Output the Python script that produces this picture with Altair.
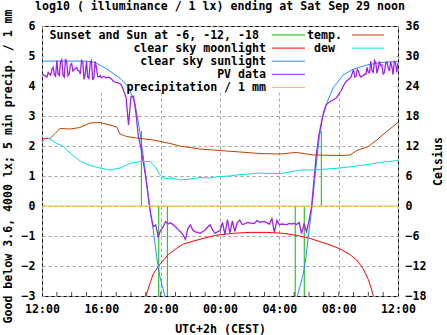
import altair as alt
import pandas as pd

FONT = "DejaVu Sans Mono"
FS = 11.6

GREEN = "#00c000"
RED = "#ff0000"
BLUE = "#1e90ff"
PURPLE = "#a020f0"
GOLD = "#ffc020"
BROWN = "#c04000"
CYAN = "#00e0e0"

TITLE = "log10 ( illuminance / 1 lx) ending at Sat Sep 29 noon"

# ---------------- data (hours after 12:00) ----------------
# PV data, one value every 10 minutes from 12:00 to 12:00 next day
pv_values = [
    4.42, 4.35, 4.30, 4.40, 4.55, 4.38, 4.85, 4.35, 4.88, 4.30, 4.80, 4.40,
    4.75, 4.55, 4.62, 4.50, 4.85, 4.22, 4.82, 4.25, 4.85, 4.30, 4.62, 4.30,
    4.28, 4.32, 4.27, 4.30, 4.24, 4.15, 4.12, 4.10, 4.05, 3.85, 3.62, 2.70,
    3.64, 3.66, 3.10, 2.30, 1.95, 1.45, 0.95, 0.30, -0.30, -0.69, -0.63, -1.02,
    -0.80, -0.70, -0.52, -0.60, -0.56, -0.62, -0.69, -0.78, -0.86, -0.95, -1.11, -0.75,
    -0.63, -0.80, -0.86, -0.88, -0.91, -0.85, -0.80, -0.70, -0.63, -0.80, -0.91, -0.86,
    -0.82, -0.55, -0.95, -0.45, -0.90, -0.50, -0.85, -0.55, -0.47, -0.62, -0.60, -0.55,
    -0.56, -0.58, -0.58, -0.48, -0.54, -0.53, -0.52, -0.56, -0.60, -0.42, -0.88, -0.48,
    -0.62, -0.60, -0.61, -0.62, -0.58, -0.60, -0.58, -0.62, -0.55, -0.92, -0.60, -0.85,
    -0.50, -0.05, 0.85, 1.75, 2.35, 2.78, 3.15, 3.38, 3.45, 3.50, 3.55, 3.60,
    3.72, 3.85, 4.02, 4.15, 4.22, 4.30, 4.55, 4.32, 4.50, 4.30, 4.35, 4.38,
    4.45, 4.82, 4.45, 4.78, 4.60, 4.68, 4.40, 4.75, 4.62, 4.80, 4.38, 4.78,
    4.76,
]
pv_hours = [i / 6 for i in range(len(pv_values))]
# extra 5-minute PV readings in the noisy stretches (12:05-15:55 and 09:05-11:55)
pv_pm_mid_values = [4.38, 4.32, 4.45, 4.36, 4.62, 4.32, 4.40, 4.82, 4.36, 4.90, 4.34, 4.70,
                    4.50, 4.58, 4.52, 4.40, 4.80, 4.40, 4.30, 4.78, 4.20, 4.82, 4.32, 4.35]
pv_pm_mid_hours = [i / 6 + 1 / 12 for i in range(len(pv_pm_mid_values))]
pv_am_mid_values = [4.30, 4.55, 4.35, 4.33, 4.40, 4.62, 4.45, 4.50, 4.85, 4.42, 4.82, 4.70,
                    4.45, 4.80, 4.50, 4.65, 4.82, 4.45]
pv_am_mid_hours = [21 + i / 6 + 1 / 12 for i in range(len(pv_am_mid_values))]

sun_eve_hours = [0, 3.0, 3.6, 4.36, 5.26, 5.82, 6.27, 6.61, 6.8, 6.94, 7.1, 7.24,
                 7.5, 7.73, 7.95, 8.18, 8.29]
sun_eve_values = [4.83, 4.83, 4.78, 4.57, 4.26, 3.98, 3.42, 2.45, 1.75, 1.2, 0.6, 0.0,
                  -0.8, -1.69, -2.36, -2.8, -3.0]
sun_morn_hours = [17.21, 17.39, 17.62, 17.80, 17.95, 18.12, 18.25, 18.36, 18.52, 18.70,
                  18.92, 19.19, 19.64, 20.31, 20.99, 21.89, 22.79, 23.68, 24]
sun_morn_values = [-3.0, -2.69, -2.24, -1.69, -1.02, -0.36, 0.2, 0.76, 1.53, 2.31,
                   2.98, 3.42, 3.95, 4.37, 4.56, 4.7, 4.78, 4.81, 4.82]

moon_hours = [7.0, 7.28, 7.5, 7.96, 8.51, 9.08, 9.53, 9.98, 10.87, 11.78, 12.9, 14.02,
              15.15, 16.27, 17.17, 18.07, 18.74, 19.42, 20.09, 20.76, 21.22, 21.66,
              22.0, 22.23, 22.34]
moon_values = [-3.0, -2.58, -2.26, -1.94, -1.62, -1.41, -1.27, -1.2, -1.08, -0.97, -0.91,
               -0.88, -0.88, -0.91, -0.98, -1.08, -1.19, -1.3, -1.43, -1.62, -1.8, -2.1,
               -2.45, -2.8, -3.0]

temp_hours = [0, 0.54, 0.88, 1.21, 1.89, 2.56, 3.24, 3.91, 4.58, 5.04, 5.26, 5.71, 6.38,
              7.5, 8.63, 9.3, 10.65, 12.0, 13.35, 14.7, 16.05, 16.72, 17.17, 18.29, 20.09,
              20.76, 21.22, 22.0, 22.57, 23.24, 24]
temp_values = [13.5, 13.5, 14.5, 15.5, 15.4, 15.7, 16.6, 16.7, 16.2, 15.8, 14.4, 13.9, 13.6,
               13.2, 12.5, 12.0, 11.4, 11.1, 10.8, 10.5, 10.4, 10.6, 10.7, 10.2, 10.1,
               10.2, 11.1, 11.9, 13.2, 14.9, 16.7]

dew_hours = [0, 0.32, 0.65, 0.99, 1.44, 1.67, 2.02, 2.56, 3.24, 3.91, 4.58, 5.26, 5.93,
             6.61, 7.28, 7.62, 7.96, 8.29, 8.83, 9.3, 9.98, 10.65, 11.33, 12.0, 12.67,
             13.35, 14.02, 14.7, 15.37, 16.05, 16.72, 17.39, 18.27, 18.74, 20.09, 21.44,
             22.79, 24]
dew_values = [12.8, 13.7, 13.2, 12.5, 11.9, 11.2, 10.3, 9.0, 8.1, 7.6, 7.2, 7.6, 8.5,
              8.9, 8.9, 7.9, 6.2, 5.5, 5.6, 5.2, 5.4, 5.7, 5.6, 5.9, 6.0,
              6.3, 6.4, 6.6, 6.5, 6.5, 6.8, 7.2, 7.2, 7.3, 7.6, 8.1,
              8.7, 9.1]

sun_event_hours = [6.70, 7.87, 8.45, 17.07, 17.68, 18.83]
sun_event_top = [2.5, 0, 0, 0, 0, 2.5]
sun_event_bottom = [0, -3, -3, -3, -3, 0]

precip_hours = [0, 24]
precip_values = [0, 0]

minor_tick_hours = list(range(1, 24))

x_tick_values = [0, 4, 8, 12, 16, 20, 24]
y_tick_values = [-3, -2, -1, 0, 1, 2, 3, 4, 5, 6]
y2_tick_values = [-18, -12, -6, 0, 6, 12, 18, 24, 30, 36]

legend_left = [
    ("Sunset and Sun at -6, -12, -18", GREEN),
    ("clear sky moonlight", RED),
    ("clear sky sunlight", BLUE),
    ("PV data", PURPLE),
    ("precipitation / 1 mm", GOLD),
]
legend_right = [("temp.", BROWN), ("dew", CYAN)]

# ---------------- scales & axes ----------------
txt = dict(font=FONT, fontSize=FS, fontWeight="bold", color="black")

x_scale = alt.Scale(domain=[0, 24], nice=False, zero=False)
y_scale = alt.Scale(domain=[-3, 6], nice=False, zero=False)
r_scale = alt.Scale(domain=[-18, 36], nice=False, zero=False)

grid_style = dict(grid=True, gridColor="#a0a0a0", gridDash=[3, 3], gridWidth=1)

x_axis = alt.Axis(
    values=x_tick_values,
    labelExpr="(((datum.value + 12) % 24) < 10 ? '0' : '') + ((datum.value + 12) % 24) + ':00'",
    ticks=False, domain=False, labelFlush=False, labelOverlap=False, labelBound=False,
    labelFont=FONT, labelFontSize=FS, labelFontWeight="bold", labelColor="black",
    labelPadding=7,
    title="UTC+2h (CEST)", titleFont=FONT, titleFontSize=FS, titleFontWeight="bold",
    titleColor="black", titleX=178, titleY=36, titleAlign="center",
    titleBaseline="alphabetic",
    **grid_style,
)
y_axis = alt.Axis(
    values=y_tick_values, ticks=False, domain=False, labelFlush=False,
    labelOverlap=False, labelBound=False,
    labelFont=FONT, labelFontSize=FS, labelFontWeight="bold", labelColor="black",
    labelPadding=7,
    title="Good below 3.6, 4000 lx; 5 min precip. / 1 mm", titleFont=FONT,
    titleFontSize=FS, titleFontWeight="bold", titleColor="black",
    titleX=-34, titleY=140, titleAlign="center", titleBaseline="middle",
    **grid_style,
)
r_axis = alt.Axis(
    orient="right", values=y2_tick_values, ticks=False, domain=False, grid=False,
    labelFlush=False, labelOverlap=False, labelBound=False,
    labelExpr="datum.value >= 0 ? '\u00a0' + datum.label : datum.label",
    labelAlign="left",
    labelFont=FONT, labelFontSize=FS, labelFontWeight="bold", labelColor="black",
    labelPadding=7,
    title="Celsius", titleFont=FONT, titleFontSize=FS, titleFontWeight="bold",
    titleColor="black", titleAngle=270, titleX=40, titleY=135, titleAlign="center",
    titleBaseline="middle",
)


def X(f):
    return alt.X(f"{f}:Q", scale=x_scale, axis=x_axis)


def YL(f):
    return alt.Y(f"{f}:Q", scale=y_scale, axis=y_axis)


# ---------------- tables ----------------
pv_df = pd.concat([
    pd.DataFrame({"h": pv_hours, "v": pv_values}),
    pd.DataFrame({"h": pv_pm_mid_hours, "v": pv_pm_mid_values}),
    pd.DataFrame({"h": pv_am_mid_hours, "v": pv_am_mid_values}),
]).sort_values("h").reset_index(drop=True)
sun_df = pd.concat([
    pd.DataFrame({"h": sun_eve_hours, "v": sun_eve_values, "seg": "eve"}),
    pd.DataFrame({"h": sun_morn_hours, "v": sun_morn_values, "seg": "morn"}),
])
moon_df = pd.DataFrame({"h": moon_hours, "v": moon_values})
temp_df = pd.DataFrame({"h": temp_hours, "c": temp_values})
dew_df = pd.DataFrame({"h": dew_hours, "c": dew_values})
ev_df = pd.DataFrame({"h": sun_event_hours, "top": sun_event_top, "bottom": sun_event_bottom})
pr_df = pd.DataFrame({"h": precip_hours, "v": precip_values})
tk_df = pd.DataFrame({"h": minor_tick_hours})
one = pd.DataFrame({"a": [0]})

# ---------------- layers ----------------
blank = alt.Chart(one).mark_rect(fill="white").encode(
    x=alt.value(2), x2=alt.value(351), y=alt.value(1), y2=alt.value(67))

events = alt.Chart(ev_df).mark_rule(color=GREEN, strokeWidth=1, clip=True).encode(
    x=X("h"), y=YL("top"), y2=alt.Y2("bottom"))

moon = alt.Chart(moon_df).mark_line(color=RED, strokeWidth=1, clip=True).encode(
    x=X("h"), y=YL("v"))

sun = alt.Chart(sun_df).mark_line(color=BLUE, strokeWidth=1, clip=True).encode(
    x=X("h"), y=YL("v"), detail="seg:N")

pv = alt.Chart(pv_df).mark_line(color=PURPLE, strokeWidth=1.3, clip=True).encode(
    x=X("h"), y=YL("v"), order="h:Q")

precip = alt.Chart(pr_df).mark_line(color=GOLD, strokeWidth=1, clip=True).encode(
    x=X("h"), y=YL("v"))

ticks = alt.Chart(tk_df).mark_tick(orient="vertical", size=8, thickness=1,
                                   color="black", clip=True).encode(
    x=X("h"), y=alt.datum(-3, scale=y_scale, axis=y_axis))

title = alt.Chart(one).mark_text(text=TITLE, align="center", baseline="alphabetic",
                                 **txt).encode(x=alt.value(178), y=alt.value(-16))

# key: right-aligned labels with a line sample to their right (first entry and
# "dew" end one character earlier, as in the original key)
left_label_end = [217, 224, 224, 224, 224]
right_label_end = [300, 293]
legend_layers = []
for i, (lab, col) in enumerate(legend_left):
    legend_layers.append(alt.Chart(one).mark_text(
        text=lab, align="right", baseline="alphabetic", **txt).encode(
        x=alt.value(left_label_end[i]), y=alt.value(12.5 + 13.1 * i)))
    legend_layers.append(alt.Chart(one).mark_rule(color=col, strokeWidth=1).encode(
        x=alt.value(230), x2=alt.value(263), y=alt.value(9 + 13.1 * i)))
for i, (lab, col) in enumerate(legend_right):
    legend_layers.append(alt.Chart(one).mark_text(
        text=lab, align="right", baseline="alphabetic", **txt).encode(
        x=alt.value(right_label_end[i]), y=alt.value(12.5 + 13.1 * i)))
    legend_layers.append(alt.Chart(one).mark_rule(color=col, strokeWidth=1).encode(
        x=alt.value(310), x2=alt.value(342), y=alt.value(9 + 13.1 * i)))

left = alt.layer(blank, events, moon, sun, pv, precip, ticks, title, *legend_layers)

temp = alt.Chart(temp_df).mark_line(color=BROWN, strokeWidth=1, clip=True).encode(
    x=X("h"), y=alt.Y("c:Q", scale=r_scale, axis=r_axis))
dew = alt.Chart(dew_df).mark_line(color=CYAN, strokeWidth=1, clip=True).encode(
    x=X("h"), y=alt.Y("c:Q", scale=r_scale, axis=r_axis))
right = alt.layer(temp, dew)

chart = alt.layer(left, right).resolve_scale(y="independent").properties(
    width=356, height=270,
    padding={"left": 42, "top": 26, "right": 49, "bottom": 39},
    autosize=alt.AutoSizeParams(type="none"),
    background="white",
).configure_view(stroke="black", strokeWidth=1)

chart.save("out.html", embed_options={"renderer": "svg", "actions": False})
